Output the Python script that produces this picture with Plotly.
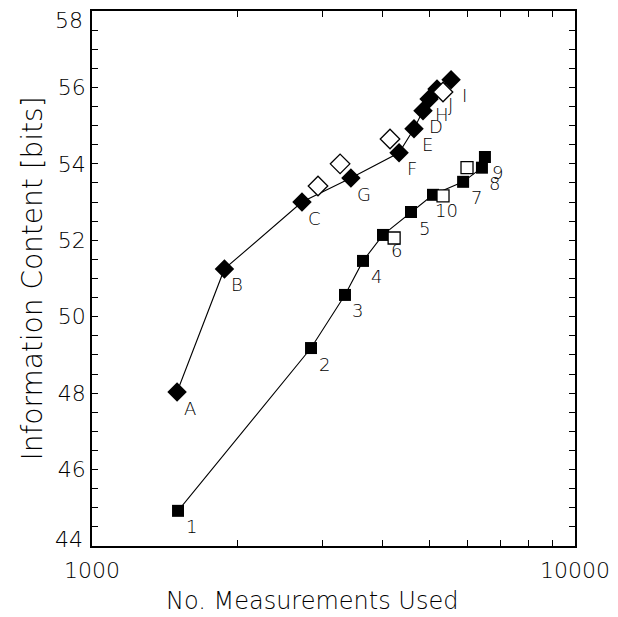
import numpy as np
import plotly.graph_objects as go

# Filled diamond series (letters)
dia_x = [1500, 1880, 2721, 3436, 4322, 4642, 4845, 4987, 5180, 5538]
dia_y = [48.03, 51.25, 53.0, 53.63, 54.29, 54.92, 55.39, 55.70, 55.96, 56.2]
dia_lbl = ["A", "B", "C", "G", "F", "E", "D", "H", "J", "I"]

# Open diamonds
odia_x = [2937, 3263, 4140, 5330]
odia_y = [53.42, 54.0, 54.65, 55.88]

# Filled square series (numbers)
sq_x = [1507, 2841, 3340, 3640, 4004, 4576, 5082, 5866, 6417, 6509]
sq_y = [44.92, 49.18, 50.57, 51.46, 52.14, 52.74, 53.19, 53.53, 53.9, 54.18]
sq_lbl = ["1", "2", "3", "4", "6", "5", "10", "7", "8", "9"]

# Open squares
osq_x = [4222, 5330, 5976]
osq_y = [52.06, 53.16, 53.9]

x_ticks = [1000, 2000, 3000, 4000, 5000, 6000, 7000, 8000, 9000, 10000]
x_ticktext = ["1000", "", "", "", "", "", "", "", "", "10000"]
y_ticks = [44 + 0.5 * i for i in range(29)]
y_ticktext = [str(int(v)) if (v % 2 == 0 and 44 < v < 58) else "" for v in y_ticks]
y_end_labels = [44, 58]

FONT = "DejaVu Sans"
W = 200

fig = go.Figure()
fig.add_trace(go.Scatter(x=dia_x, y=dia_y, mode="lines+markers",
                         line=dict(color="black", width=1.1),
                         marker=dict(symbol="diamond", size=15, color="black")))
fig.add_trace(go.Scatter(x=sq_x, y=sq_y, mode="lines+markers",
                         line=dict(color="black", width=1.1),
                         marker=dict(symbol="square", size=12, color="black")))
fig.add_trace(go.Scatter(x=odia_x, y=odia_y, mode="markers",
                         marker=dict(symbol="diamond", size=15, color="white",
                                     line=dict(color="black", width=1.3))))
fig.add_trace(go.Scatter(x=osq_x, y=osq_y, mode="markers",
                         marker=dict(symbol="square", size=12, color="white",
                                     line=dict(color="black", width=1.3))))

for xs, ys, ls in [(dia_x, dia_y, dia_lbl), (sq_x, sq_y, sq_lbl)]:
    for x, y, t in zip(xs, ys, ls):
        fig.add_annotation(x=np.log10(x), y=y, text=t, showarrow=False,
                           xshift=13, yshift=-16, borderpad=0,
                           font=dict(family=FONT, size=18, color="black", weight=W))

# end labels of the y axis sit just inside the frame, as in the reference
for v, sh in zip(y_end_labels, [7, -9]):
    fig.add_annotation(xref="paper", x=0, y=v, text=str(v), showarrow=False,
                       xanchor="right", xshift=-7, yshift=sh,
                       font=dict(family=FONT, size=22, color="black", weight=W))

# x-axis title (slightly left of centre in the reference)
fig.add_annotation(xref="paper", yref="paper", x=0.5, y=0, xshift=-22, yshift=-55,
                   xanchor="center", yanchor="middle", showarrow=False, borderpad=0,
                   text="No. Measurements Used",
                   font=dict(family=FONT, size=24, color="black", weight=W))

fig.update_xaxes(type="log", range=[3, 4], tickvals=x_ticks, ticktext=x_ticktext,
                 ticks="inside", ticklen=6, tickcolor="black", mirror="ticks",
                 showline=True, linecolor="black", linewidth=1.5, showgrid=False,
                 zeroline=False, ticklabelstandoff=4,
                 tickfont=dict(family=FONT, size=22, color="black", weight=W))
fig.update_yaxes(range=[44, 58], tickvals=y_ticks, ticktext=y_ticktext,
                 ticks="inside", ticklen=6, tickcolor="black", mirror="ticks",
                 showline=True, linecolor="black", linewidth=1.5, showgrid=False,
                 zeroline=False,
                 title=dict(text="Information Content [bits]",
                            font=dict(family=FONT, size=28, weight=W), standoff=7),
                 tickfont=dict(family=FONT, size=22, color="black", weight=W))

# page body adds an 8px margin, so the figure is 8px smaller than the window
fig.update_layout(width=610, height=609, showlegend=False,
                  plot_bgcolor="white", paper_bgcolor="white",
                  margin=dict(l=84, r=43, t=3, b=71, autoexpand=False),
                  font=dict(family=FONT, color="black"))

fig.write_html("out.html")
